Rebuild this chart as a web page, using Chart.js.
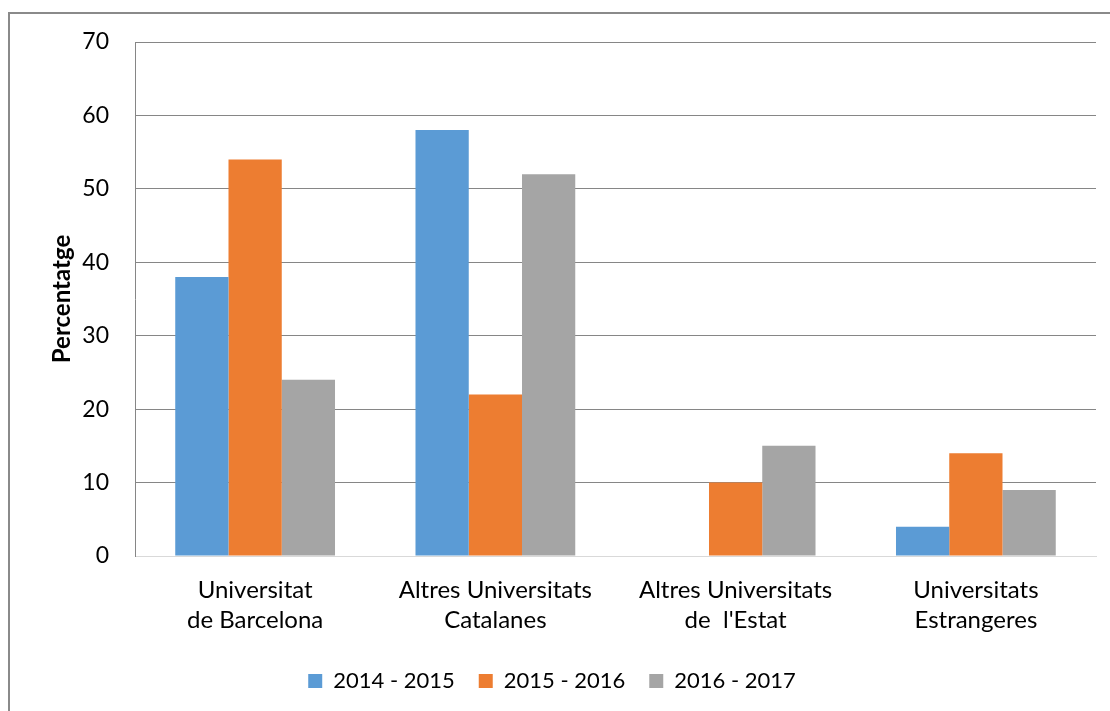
<!DOCTYPE html>
<html>
<head>
<meta charset="utf-8">
<script src="https://cdn.jsdelivr.net/npm/chart.js@4/dist/chart.umd.min.js"></script>
<style>
  body { margin: 0; background: #fff; overflow: hidden; }
  #marc {
    position: absolute; left: 8px; top: 12px;
    width: 1200px; height: 800px;
    border: 2px solid #8a8a8a;
  }
  #caixa { position: absolute; left: 0; top: 0; width: 1110px; height: 711px; }
</style>
</head>
<body>
<div id="marc"></div>
<div id="caixa"><canvas id="grafica" width="1110" height="711"></canvas></div>
<script>
// Dades del gràfic
const categories = [
    ['Universitat', 'de Barcelona'],
    ['Altres Universitats', 'Catalanes'],
    ['Altres Universitats', 'de  l\'Estat'],
    ['Universitats', 'Estrangeres']
];
const cursos = ['2014 - 2015', '2015 - 2016', '2016 - 2017'];
const valors2014 = [38, 58, 0, 4];
const valors2015 = [54, 22, 10, 14];
const valors2016 = [24, 52, 15, 9];
const colors = ['#5b9bd5', '#ed7d31', '#a5a5a5'];

const fontText = 'Lato';

const ctx = document.getElementById('grafica').getContext('2d');
const grafica = new Chart(ctx, {
    type: 'bar',
    data: {
        labels: categories,
        datasets: [valors2014, valors2015, valors2016].map((v, i) => ({
            label: cursos[i],
            data: v,
            backgroundColor: colors[i],
            borderWidth: 0,
            categoryPercentage: 0.665,
            barPercentage: 1
        }))
    },
    options: {
        responsive: false,
        animation: false,
        layout: { padding: { top: 42, left: 8, right: 14, bottom: 9 } },
        plugins: {
            tooltip: { enabled: false },
            legend: {
                position: 'bottom',
                labels: {
                    boxWidth: 14,
                    boxHeight: 14,
                    padding: 24,
                    color: '#000',
                    font: { family: fontText, size: 22 }
                }
            }
        },
        scales: {
            x: {
                grid: { display: false },
                border: { display: true, color: '#d9d9d9', width: 1 },
                ticks: {
                    color: '#000',
                    padding: 11,
                    maxRotation: 0,
                    font: { family: fontText, size: 24, lineHeight: 1.25 }
                },
                afterFit: s => { s.height = 90; }
            },
            y: {
                min: 0,
                max: 70,
                ticks: {
                    stepSize: 10,
                    color: '#000',
                    padding: 26,
                    font: { family: fontText, size: 23 }
                },
                grid: {
                    drawTicks: false,
                    color: c => c.index === 0 ? '#d9d9d9' : '#868686',
                    lineWidth: 1
                },
                border: { display: true, color: '#868686', width: 1 },
                title: {
                    display: true,
                    text: 'Percentatge',
                    color: '#000',
                    padding: { top: 40, bottom: 0 },
                    font: { family: fontText, size: 24, weight: 'bold', lineHeight: 1.2 }
                },
                afterFit: s => { s.width = 127; }
            }
        }
    }
});
</script>
</body>
</html>
